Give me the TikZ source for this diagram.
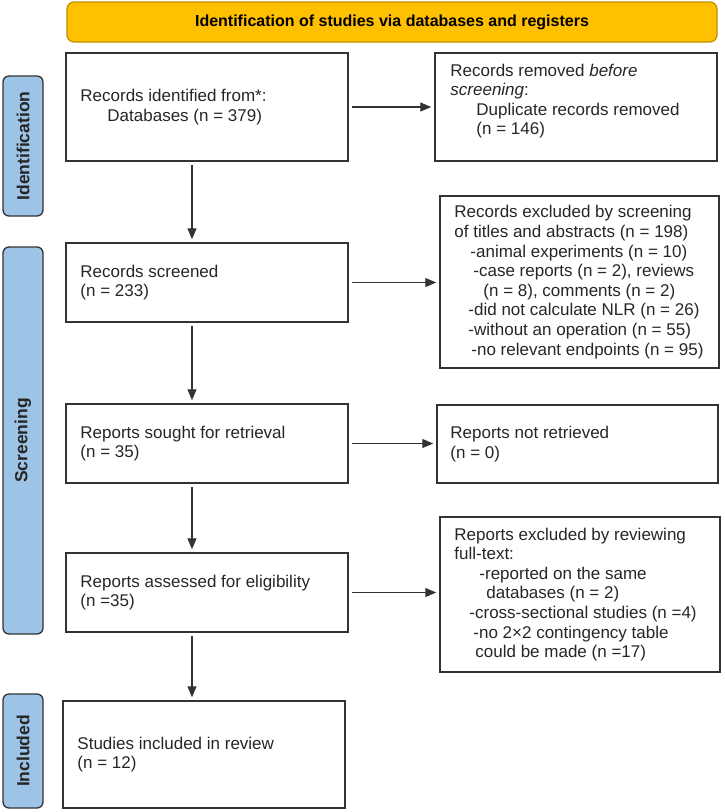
\documentclass[tikz,border=0pt]{standalone}
\usepackage{fontspec}
\setmainfont{Liberation Sans}
\usetikzlibrary{arrows.meta}
\definecolor{bannerfill}{HTML}{FFC000}
\definecolor{bannerdraw}{HTML}{BF9000}
\definecolor{labfill}{HTML}{9DC3E6}
\definecolor{linecol}{HTML}{333333}
\definecolor{txtcol}{HTML}{262626}
\begin{document}
\begin{tikzpicture}[x=1pt,y=-1pt,
  box/.style={draw=linecol, line width=1.5pt, rectangle, inner sep=0pt},
  txt/.style={inner sep=0pt, align=left, anchor=west, font=\fontsize{17}{19.6}\selectfont, text=txtcol},
  phase/.style={draw=linecol, line width=1.3pt, fill=labfill, rounded corners=6pt, inner sep=0pt, rotate=90, minimum height=40pt, font=\bfseries\fontsize{17.5}{19}\selectfont, text=black!85},
  arr/.style={draw=linecol, line width=1.2pt, -{Triangle[length=11pt,width=9pt]}, shorten <=3pt, shorten >=3pt}
]
\useasboundingbox (0,0) rectangle (725,812);

% banner
\node[draw=bannerdraw, line width=1.2pt, fill=bannerfill, rounded corners=7pt,
  minimum width=650pt, minimum height=40pt, inner sep=0pt,
  font=\bfseries\fontsize{16}{18}\selectfont] (ban) at (392,22)
  {Identification of studies via databases and registers};

% phase labels
\node[phase, minimum width=140pt] (pid) at (23,146) {Identification};
\node[phase, minimum width=387pt] (psc) at (23,440.5) {Screening};
\node[phase, minimum width=114pt] (pin) at (23,751) {Included};

% boxes
\node[box, minimum width=282pt, minimum height=108pt] (b1) at (207,107) {};
\node[txt] (t1) at ([xshift=15pt]b1.west) {Records identified from*:\\\hspace*{27pt}Databases (n = 379)};

\node[box, minimum width=282pt, minimum height=108pt] (rem) at (576,107) {};
\node[txt] (t2) at ([xshift=16pt,yshift=6pt]rem.west) {Records removed \textit{before}\\\textit{screening}:\\\hspace*{26pt}Duplicate records removed\\\hspace*{26pt}(n = 146)};

\node[box, minimum width=282pt, minimum height=79pt] (scr) at (207,282.5) {};
\node[txt] (t3) at ([xshift=15pt]scr.west) {Records screened\\(n = 233)};

\node[box, minimum width=279pt, minimum height=172pt] (exc) at (579.5,282) {};
\node[txt] (t4) at ([xshift=15pt]exc.west) {Records excluded by screening\\
of titles and abstracts (n = 198)\\
\hspace*{16pt}-animal experiments (n = 10)\\
\hspace*{19pt}-case reports (n = 2), reviews\\
\hspace*{29pt}(n = 8), comments (n = 2)\\
\hspace*{14pt}-did not calculate NLR (n = 26)\\
\hspace*{14pt}-without an operation (n = 55)\\
\hspace*{17pt}-no relevant endpoints (n = 95)};

\node[box, minimum width=282pt, minimum height=79pt] (sou) at (207,443.5) {};
\node[txt] (t5) at ([xshift=15pt]sou.west) {Reports sought for retrieval\\(n = 35)};

\node[box, minimum width=281pt, minimum height=78pt] (nre) at (577.5,444) {};
\node[txt] (t6) at ([xshift=14pt]nre.west) {Reports not retrieved\\(n = 0)};

\node[box, minimum width=282pt, minimum height=79pt] (ass) at (207,592.5) {};
\node[txt] (t7) at ([xshift=15pt]ass.west) {Reports assessed for eligibility\\(n =35)};

\node[box, minimum width=280pt, minimum height=155pt] (rex) at (580,594.5) {};
\node[txt] (t8) at ([xshift=15pt]rex.west) {Reports excluded by reviewing\\
full-text:\\
\hspace*{25pt}-reported on the same\\
\hspace*{32pt}databases (n = 2)\\
\hspace*{15pt}-cross-sectional studies (n =4)\\
\hspace*{19pt}-no 2×2 contingency table\\
\hspace*{21pt}could be made (n =17)};

\node[box, minimum width=282pt, minimum height=107pt] (inc) at (204,754.5) {};
\node[txt] (t9) at ([xshift=15pt]inc.west) {Studies included in review\\(n = 12)};

% arrows
\coordinate (ax) at (192,0);
\draw[arr] (b1.south -| ax) -- (scr.north -| ax);
\draw[arr] (scr.south -| ax) -- (sou.north -| ax);
\draw[arr] (sou.south -| ax) -- (ass.north -| ax);
\draw[arr] (ass.south -| ax) -- (inc.north -| ax);

\draw[arr] (b1.east) -- (b1.east -| rem.west);
\draw[arr] (scr.east) -- (scr.east -| exc.west);
\draw[arr] (sou.east) -- (sou.east -| nre.west);
\draw[arr] (ass.east) -- (ass.east -| rex.west);
\end{tikzpicture}
\end{document}
